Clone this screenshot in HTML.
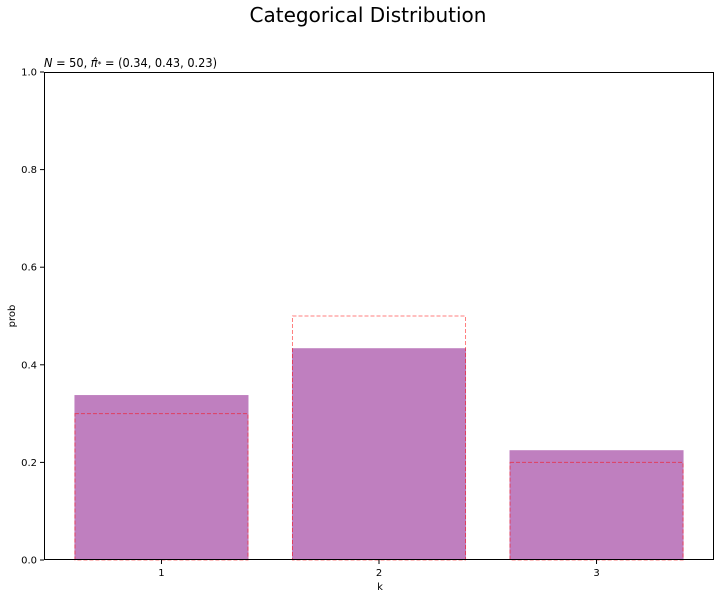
<!DOCTYPE html>
<html><head><meta charset="utf-8"><style>
html,body{margin:0;padding:0;background:#fff;}
svg{display:block;font-family:"DejaVu Sans","Liberation Sans",sans-serif;}
</style></head><body>
<svg id="chart" width="720" height="599" viewBox="0 0 720 599">
<text x="368" y="22" font-size="20" text-anchor="middle">Categorical Distribution</text>
<text x="44" y="67" font-size="12" textLength="173" lengthAdjust="spacingAndGlyphs"><tspan font-style="italic">N</tspan> = 50, <tspan font-style="italic">π̂</tspan><tspan font-size="8">*</tspan> = (0.34, 0.43, 0.23)</text>
<g id="bars"></g>
<g id="axes"></g>
<text x="380" y="590" font-size="10" text-anchor="middle">k</text>
<text transform="translate(15,316) rotate(-90)" font-size="10" text-anchor="middle">prob</text>
</svg>
<script>
const categories = [1, 2, 3];
const estimated = [0.338, 0.434, 0.225];
const trueProbs = [0.3, 0.5, 0.2];
const yTicks = [0, 0.2, 0.4, 0.6, 0.8, 1.0];
const yTickLabels = ["0.0", "0.2", "0.4", "0.6", "0.8", "1.0"];

const L = 44, R = 714, T = 72, B = 560;
const xMin = 0.46, xMax = 3.54;
const xs = v => L + (v - xMin) / (xMax - xMin) * (R - L);
const ys = v => B - v * (B - T);
const NS = "http://www.w3.org/2000/svg";
function mk(tag, attrs, parent) {
  const e = document.createElementNS(NS, tag);
  for (const k in attrs) e.setAttribute(k, attrs[k]);
  parent.appendChild(e);
  return e;
}
const bars = document.getElementById("bars");
const axes = document.getElementById("axes");
const w = 0.8;
categories.forEach((c, i) => {
  const x0 = xs(c - w / 2), x1 = xs(c + w / 2);
  const b = mk("rect", {x: x0, y: ys(estimated[i]), width: x1 - x0, height: ys(0) - ys(estimated[i]), fill: "#bf7fbf"}, bars);
  
  
  const t = mk("rect", {x: x0 + 0.5, y: ys(trueProbs[i]), width: x1 - x0 - 1, height: ys(0) - ys(trueProbs[i]), fill: "none", stroke: "rgba(255,0,0,0.5)", "stroke-width": 1, "stroke-dasharray": "4,2"}, bars);
  
  
  const tk = mk("line", {x1: xs(c), x2: xs(c), y1: B, y2: B + 4, stroke: "#000"}, axes);
  
  
  const tl = mk("text", {x: xs(c), y: B + 16, "font-size": 10, "text-anchor": "middle"}, axes);
  tl.textContent = c;
  
  
});
yTicks.forEach((v, i) => {
  const tk = mk("line", {x1: L - 4, x2: L, y1: ys(v), y2: ys(v), stroke: "#000"}, axes);
  
  
  const tl = mk("text", {x: L - 7, y: ys(v) + 3.5, "font-size": 10, "text-anchor": "end"}, axes);
  tl.textContent = yTickLabels[i];
  
  
});
const frame = mk("rect", {x: L + 0.5, y: T + 0.5, width: R - L - 1, height: B - T - 1, fill: "none", stroke: "#000", "stroke-width": 1}, axes);


</script>
</body></html>
